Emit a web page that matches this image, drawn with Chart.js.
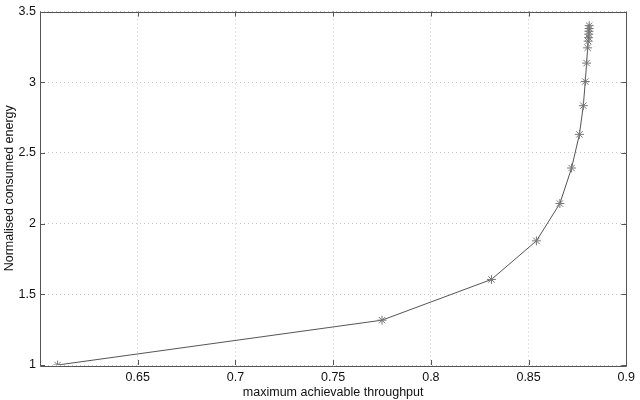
<!DOCTYPE html>
<html><head><meta charset="utf-8">
<script src="https://cdn.jsdelivr.net/npm/chart.js@4"></script>
<style>html,body{margin:0;padding:0;background:#fff}#wrap{width:640px;height:400px}</style>
</head><body><div id="wrap"><canvas id="c"></canvas></div>
<script>
const throughput = [0.609, 0.775, 0.831, 0.854, 0.866, 0.872, 0.876, 0.878, 0.879, 0.8797, 0.8802, 0.8805, 0.8807, 0.8808, 0.8809, 0.881, 0.881];
const energy     = [1.0, 1.317, 1.605, 1.878, 2.142, 2.393, 2.631, 2.834, 3.005, 3.135, 3.243, 3.29, 3.315, 3.34, 3.36, 3.38, 3.40];
const xTicks = [0.6, 0.65, 0.7, 0.75, 0.8, 0.85, 0.9];
const yTicks = [1, 1.5, 2, 2.5, 3, 3.5];
const xTitle = 'maximum achievable throughput';
const yTitle = 'Normalised consumed energy';

const points = throughput.map((x, i) => ({x: x, y: energy[i]}));
const font = {family: 'Liberation Sans, Arial, sans-serif', size: 12.5};

const boxPlugin = {
  id: 'box',
  afterDraw(chart) {
    const ctx = chart.ctx, a = chart.chartArea;
    const xs = chart.scales.x, ys = chart.scales.y;
    ctx.save();
    ctx.strokeStyle = '#555';
    ctx.lineWidth = 1;
    ctx.beginPath();
    ctx.rect(Math.round(a.left) + 0.5, Math.round(a.top) + 0.5, Math.round(a.right - a.left), Math.round(a.bottom - a.top));
    ctx.stroke();
    ctx.beginPath();
    const tl = 5;
    xTicks.forEach(v => {
      const px = Math.round(xs.getPixelForValue(v)) + 0.5;
      ctx.moveTo(px, a.bottom); ctx.lineTo(px, a.bottom - tl);
      ctx.moveTo(px, a.top); ctx.lineTo(px, a.top + tl);
    });
    yTicks.forEach(v => {
      const py = Math.round(ys.getPixelForValue(v)) + 0.5;
      ctx.moveTo(a.left, py); ctx.lineTo(a.left + tl, py);
      ctx.moveTo(a.right, py); ctx.lineTo(a.right - tl, py);
    });
    ctx.stroke();
    ctx.restore();
  }
};

new Chart(document.getElementById('c'), {
  type: 'scatter',
  data: {
    datasets: [{
      data: points,
      showLine: true,
      borderColor: '#555',
      borderWidth: 1,
      pointStyle: 'star',
      pointRadius: 4.5,
      pointBorderColor: '#777',
      pointBorderWidth: 1,
      pointBackgroundColor: 'transparent',
      tension: 0
    }]
  },
  plugins: [boxPlugin],
  options: {
    responsive: true,
    maintainAspectRatio: false,
    animation: false,
    layout: {padding: {top: 7, right: 10, left: 0, bottom: 0}},
    plugins: {legend: {display: false}, tooltip: {enabled: false}},
    scales: {
      x: {
        type: 'linear', min: 0.6, max: 0.9,
        afterBuildTicks: s => { s.ticks = xTicks.map(v => ({value: v})); },
        afterFit: s => { s.height = 35; },
        grid: {color: '#c8c8c8', drawTicks: false, lineWidth: 1},
        border: {display: false, dash: [1, 3]},
        ticks: {
          padding: 5, color: '#111', font: font, maxRotation: 0,
          callback: v => (Math.abs(v - 0.6) < 1e-9 ? '' : String(Math.round(v * 100) / 100))
        },
        title: {display: true, text: xTitle, color: '#111', font: font, padding: {top: 2, bottom: 0}}
      },
      y: {
        type: 'linear', min: 1, max: 3.5,
        afterBuildTicks: s => { s.ticks = yTicks.map(v => ({value: v})); },
        afterFit: s => { s.width = 40; },
        grid: {color: '#c8c8c8', drawTicks: false, lineWidth: 1},
        border: {display: false, dash: [1, 3]},
        ticks: {padding: 4, color: '#111', font: font, callback: v => String(v)},
        title: {display: true, text: yTitle, color: '#111', font: font, padding: {top: 2, bottom: 0}}
      }
    }
  }
});
</script>
</body></html>
